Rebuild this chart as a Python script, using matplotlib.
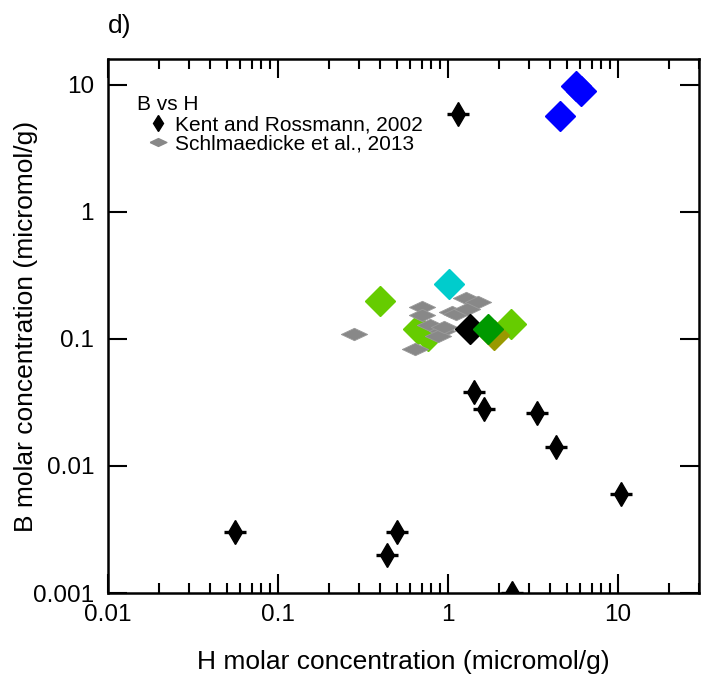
import matplotlib
matplotlib.use("Agg")
import matplotlib.pyplot as plt
from matplotlib.lines import Line2D
from matplotlib.ticker import FixedLocator, FixedFormatter, LogLocator, NullLocator

plt.rcParams['font.family'] = ['Liberation Sans', 'DejaVu Sans']

# Kent and Rossmann, 2002
kent_h = [1.15, 0.056, 0.44, 0.50, 2.38, 1.42, 1.63, 3.34, 4.32, 10.4]
kent_b = [5.9, 0.003, 0.002, 0.003, 0.001, 0.038, 0.028, 0.026, 0.014, 0.006]

# Schlmaedicke et al., 2013
sch_h = [0.28, 0.64, 0.70, 0.70, 0.78, 0.92, 0.88, 1.05, 1.11, 1.28, 1.51, 1.29, 0.95]
sch_b = [0.11, 0.083, 0.18, 0.155, 0.128, 0.115, 0.105, 0.162, 0.156, 0.21, 0.195, 0.171, 0.125]

# individual samples (drawn in this order)
samp_h = [0.40, 0.67, 0.76, 2.35, 1.01, 1.35, 1.87, 1.72, 4.56, 5.66, 6.06]
samp_b = [0.20, 0.12, 0.105, 0.13, 0.27, 0.12, 0.108, 0.12, 5.65, 9.8, 8.94]
samp_colors = ['#66cc00', '#66cc00', '#66cc00', '#66cc00', '#00cccc', '#000000',
               '#999900', '#009900', '#0000ff', '#0000ff', '#0000ff']
samp_z = [2, 2, 2, 2, 4, 4, 4, 5, 4, 4, 4]

x_ticks = [0.01, 0.1, 1, 10]
x_labels = ['0.01', '0.1', '1', '10']
y_ticks = [0.001, 0.01, 0.1, 1, 10]
y_labels = ['0.001', '0.01', '0.1', '1', '10']

flat_diamond = [(-1, 0), (0, 0.47), (1, 0), (0, -0.47), (-1, 0)]

fig = plt.figure(figsize=(7.15, 6.93), dpi=100)
ax = fig.add_axes([0.151, 0.1443, 0.8266, 0.7706])
ax.set_xscale('log')
ax.set_yscale('log')
ax.set_xlim(0.01, 30)
ax.set_ylim(0.001, 16)

# coloured samples, lime ones sit beneath the grey cluster
for h, b, c, z in zip(samp_h, samp_b, samp_colors, samp_z):
    ax.plot([h], [b], marker='D', ms=15.5, color=c, mec=c, ls='none', zorder=z)

ax.plot(sch_h, sch_b, marker=flat_diamond, ms=19, color='#888888', mec='#9a9a9a',
        mew=0.6, ls='none', zorder=3)

ax.plot(kent_h, kent_b, marker='_', ms=16, mew=2.4, color='black', ls='none', zorder=6)
ax.plot(kent_h, kent_b, marker='d', ms=12, color='black', ls='none', zorder=6)

ax.xaxis.set_major_locator(FixedLocator(x_ticks))
ax.xaxis.set_major_formatter(FixedFormatter(x_labels))
ax.xaxis.set_minor_locator(LogLocator(base=10, subs=[2, 3, 4, 5, 6, 7, 8, 9], numticks=20))
ax.yaxis.set_major_locator(FixedLocator(y_ticks))
ax.yaxis.set_major_formatter(FixedFormatter(y_labels))
ax.yaxis.set_minor_locator(NullLocator())

ax.tick_params(which='both', direction='in', top=True, right=True, colors='black')
ax.tick_params(which='major', length=14, width=1.5, labelsize=17.5)
ax.tick_params(which='minor', length=7, width=1.5)
ax.tick_params(axis='x', which='major', pad=8)
ax.tick_params(axis='y', which='major', pad=10)
for s in ax.spines.values():
    s.set_linewidth(1.8)

ax.set_xlabel('H molar concentration (micromol/g)', fontsize=19)
ax.set_ylabel('B molar concentration (micromol/g)', fontsize=19)
ax.xaxis.set_label_coords(0.5, -0.107)
ax.yaxis.set_label_coords(-0.118, 0.5)

ax.text(0.0, 1.04, 'd)', transform=ax.transAxes, fontsize=19, ha='left', va='bottom')

ax.text(0.049, 0.915, 'B vs H', transform=ax.transAxes, fontsize=15, ha='left', va='center')
handles = [
    Line2D([], [], marker='d', ms=8, color='black', ls='none'),
    Line2D([], [], marker=flat_diamond, ms=12, color='#888888', ls='none'),
]
ax.legend(handles, ['Kent and Rossmann, 2002', 'Schlmaedicke et al., 2013'],
          loc='upper left', bbox_to_anchor=(0.071, 0.895), frameon=False,
          fontsize=15, handlelength=0.8, handletextpad=0.4, labelspacing=0.0,
          borderpad=0, borderaxespad=0)

fig.savefig('out.png', dpi=100)
